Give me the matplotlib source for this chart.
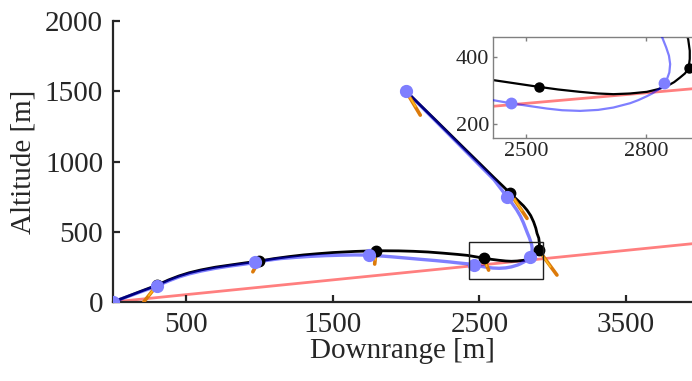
import matplotlib.pyplot as plt
from matplotlib.patches import Rectangle

plt.rcParams['font.family'] = ['Liberation Serif', 'DejaVu Serif']

# black trajectory (start at top, end at origin)
black_x = [2000, 2100, 2200, 2300, 2400, 2500, 2600, 2660, 2711, 2760, 2800, 2825, 2850, 2870,
           2885, 2893, 2905, 2909, 2909, 2906, 2897, 2885, 2870, 2852, 2830, 2802, 2760, 2718,
           2680, 2634, 2580, 2531, 2480, 2418, 2350, 2250, 2150, 2050, 1950, 1795, 1650, 1500,
           1400, 1300, 1200, 1100, 995, 900, 800, 700, 600, 520, 450, 380, 302, 200, 100, 0]
black_y = [1500, 1398, 1296, 1193, 1090, 988, 885, 825, 773, 725, 685, 654, 615, 570,
           525, 489, 455, 420, 395, 367, 352, 340, 326, 314, 305, 297, 292, 290,
           292, 297, 304, 312, 321, 332, 339, 348, 356, 361, 364, 365, 360, 352,
           344, 335, 323, 309, 291, 278, 263, 248, 228, 208, 185, 157, 120, 80, 40, 0]

# blue trajectory
blue_x = [2000, 2100, 2200, 2300, 2400, 2500, 2600, 2688, 2725, 2755, 2780, 2800, 2815, 2828,
          2840, 2850, 2857, 2860, 2858, 2852, 2845, 2832, 2815, 2802, 2780, 2760, 2718, 2680,
          2635, 2590, 2552, 2500, 2461, 2418, 2350, 2300, 2200, 2097, 2000, 1900, 1800, 1745,
          1650, 1550, 1450, 1350, 1250, 1143, 1050, 973, 900, 800, 700, 600, 520, 450, 380,
          302, 200, 100, 0]
blue_y = [1500, 1395, 1290, 1185, 1080, 975, 870, 749, 700, 655, 610, 565, 525, 490,
          460, 430, 405, 380, 355, 335, 322, 305, 292, 284, 272, 263, 250, 243,
          240, 242, 247, 256, 263, 272, 279, 285, 295, 304, 313, 322, 330, 334,
          335, 333, 330, 325, 318, 309, 296, 282, 270, 256, 240, 220, 200, 178, 150,
          114, 76, 38, 0]

black_mk_x = [2000, 2711, 2906, 2531, 1795, 995, 302, 0]
black_mk_y = [1500, 773, 367, 312, 365, 291, 120, 0]
blue_mk_x = [2000, 2688, 2845, 2461, 1745, 973, 302, 0]
blue_mk_y = [1500, 749, 322, 263, 334, 282, 114, 0]

# thrust vectors at black markers
orange_end_x = [2097, 2825, 3029, 2563, 1786, 955, 212, 0]
orange_end_y = [1330, 595, 192, 227, 270, 215, 2, 0]
yellow_end_x = [2065, 2790, 2985, 2550, 1790, 983, 245, 0]
yellow_end_y = [1390, 650, 250, 255, 300, 248, 45, 0]

ground_x = [0, 4000]
ground_y = [0, 420]

zoom_box_x = [2427, 2931]
zoom_box_y = [164, 429]

dark = '#262626'

fig = plt.figure(figsize=(6.92, 3.81), dpi=100)
ax = fig.add_axes([0.163, 0.2073, 0.837, 0.7376])


def draw(a, lw_b, lw_bl, ms_b, ms_bl, vectors):
    a.plot(ground_x, ground_y, color='red', alpha=0.5, lw=2, zorder=1)
    a.plot(black_x, black_y, color='black', lw=lw_b, zorder=2)
    a.plot(blue_x, blue_y, color='blue', alpha=0.5, lw=lw_bl, zorder=3)
    if vectors:
        for i in range(len(black_mk_x)):
            a.plot([black_mk_x[i], orange_end_x[i]], [black_mk_y[i], orange_end_y[i]],
                   color='#dc7a0a', lw=2.6, solid_capstyle='round', zorder=4)
            a.plot([black_mk_x[i], yellow_end_x[i]], [black_mk_y[i], yellow_end_y[i]],
                   color='#ffb81c', lw=1.2, solid_capstyle='round', zorder=4)
    a.plot(black_mk_x, black_mk_y, 'o', color='black', ms=ms_b, zorder=5)
    a.plot(blue_mk_x, blue_mk_y, 'o', color='#7f7fff', ms=ms_bl, zorder=6)


draw(ax, 2.0, 2.4, 7.5, 8.5, True)
ax.add_patch(Rectangle((zoom_box_x[0], zoom_box_y[0]), zoom_box_x[1] - zoom_box_x[0],
                       zoom_box_y[1] - zoom_box_y[0], fill=False, ec='#202020', lw=1.0, zorder=7))

ax.set_xlim(0, 3950)
ax.set_ylim(0, 2000)
ax.set_xticks([500, 1500, 2500, 3500])
ax.set_yticks([0, 500, 1000, 1500, 2000])
for s in ['top', 'right']:
    ax.spines[s].set_visible(False)
for s in ['left', 'bottom']:
    ax.spines[s].set_color(dark)
    ax.spines[s].set_linewidth(1.6)
ax.tick_params(direction='in', length=5, width=1.6, color=dark, labelcolor=dark,
               labelsize=21, pad=7)
ax.set_xlabel('Downrange [m]', fontsize=21, color=dark, labelpad=0)
ax.set_ylabel('Altitude [m]', fontsize=21, color=dark, labelpad=6)
ax.patch.set_alpha(0)

# inset
ins = fig.add_axes([0.7129, 0.6378, 0.296, 0.2643])
draw(ins, 1.6, 1.6, 6.5, 7.5, False)
ins.set_xlim(2418, 2930)
ins.set_ylim(159, 460)
ins.set_xticks([2500, 2800])
ins.set_yticks([200, 400])
for s in ins.spines.values():
    s.set_color('#808080')
    s.set_linewidth(1.0)
ins.tick_params(direction='in', length=3, width=1.0, color='#808080', labelcolor=dark,
                labelsize=16, pad=3, top=True, right=True)

fig.savefig('out.png', dpi=100)
